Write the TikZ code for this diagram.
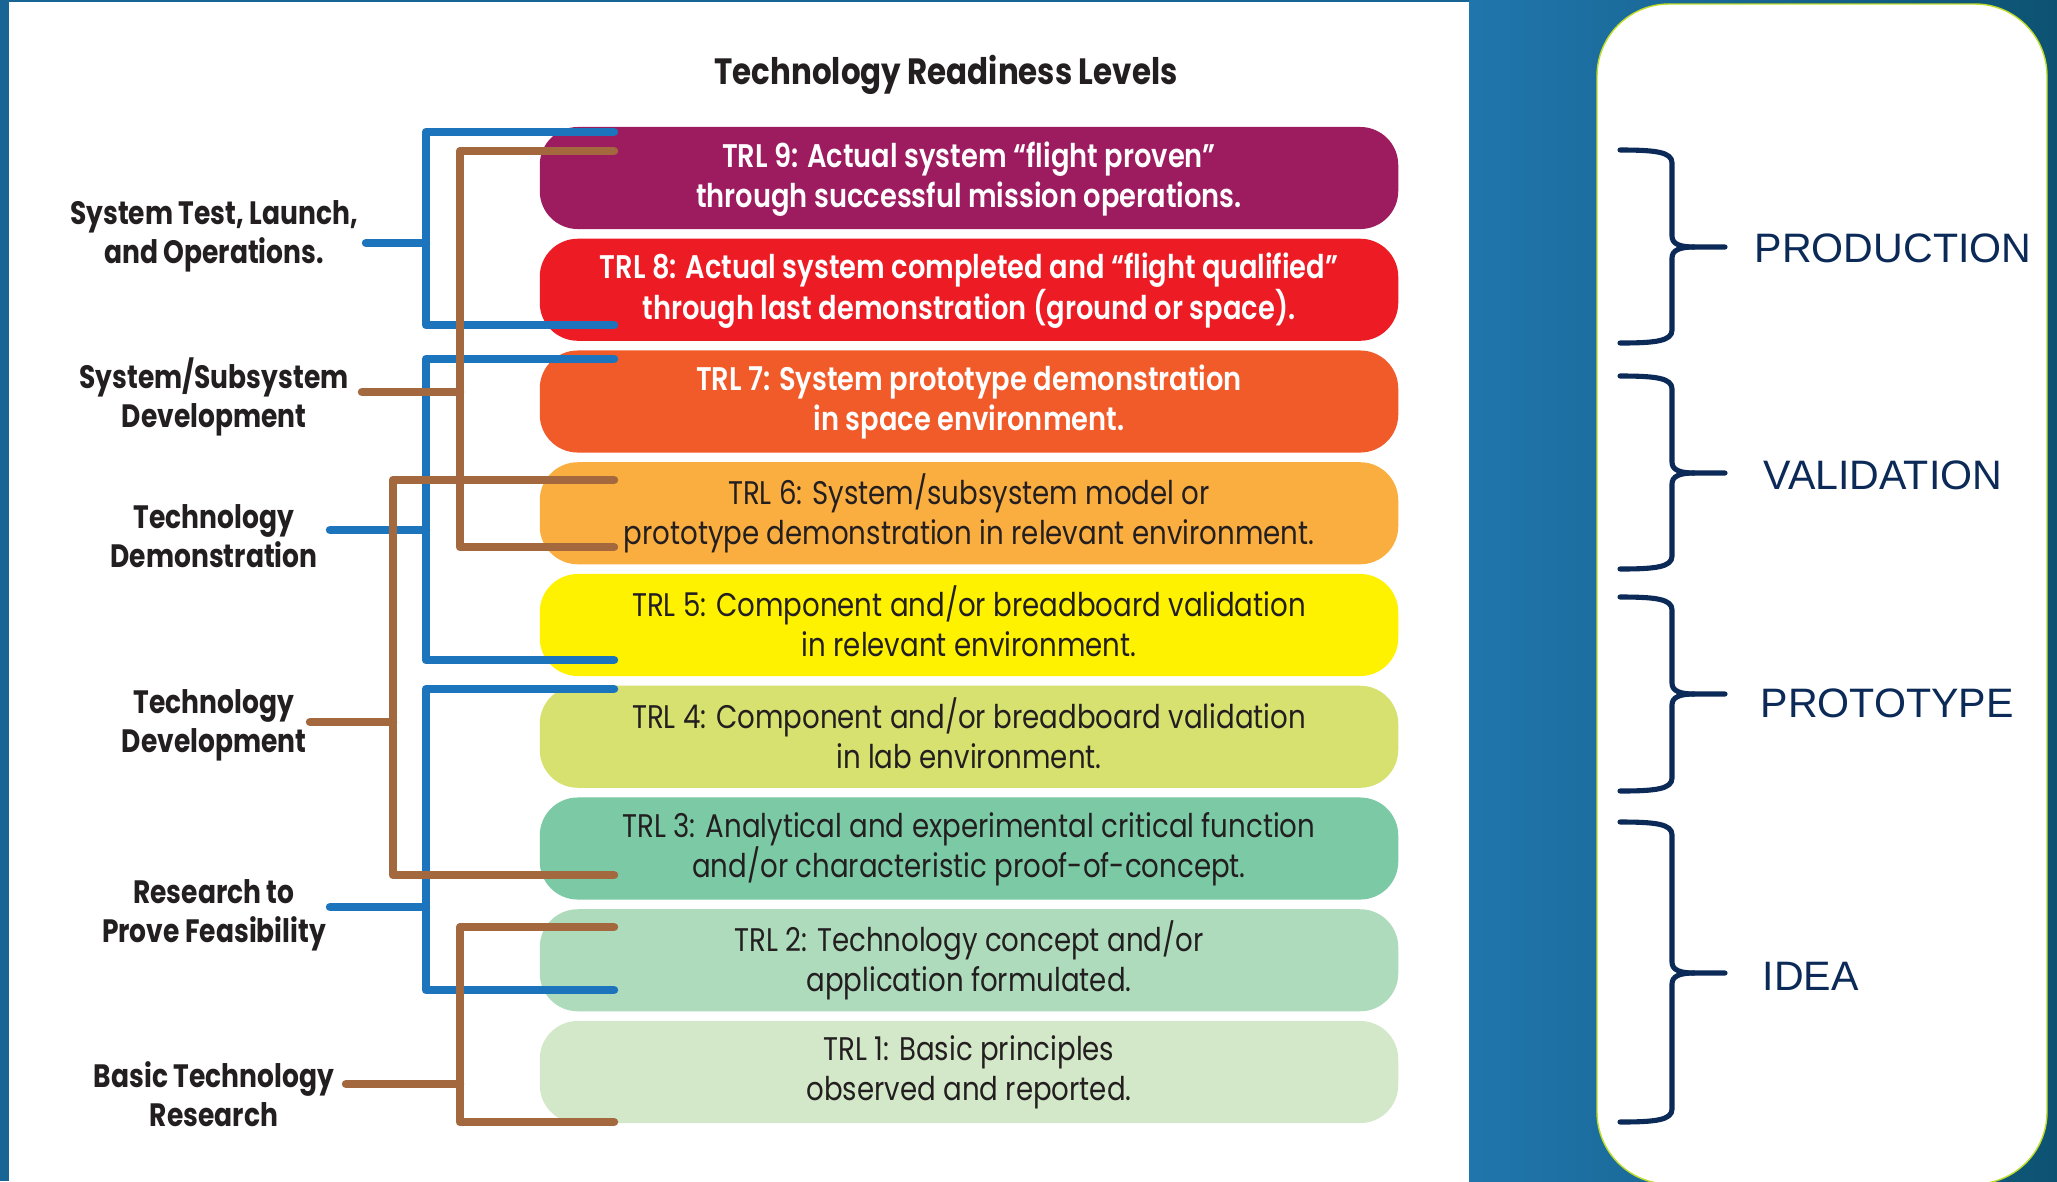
\documentclass[tikz,border=0pt]{standalone}
\usepackage{fontspec}
\setmainfont{Liberation Sans}
\newfontfamily\futlab[FakeStretch=0.82]{Poppins}
\newfontfamily\futbox[FakeStretch=0.845]{Poppins}
\newfontfamily\futmed[FakeStretch=0.835]{Poppins SemiBold}
\usetikzlibrary{calc}
\definecolor{bgL}{RGB}{32,118,172}
\definecolor{bgR}{RGB}{13,82,114}
\definecolor{bgStrip}{RGB}{24,100,148}
\definecolor{blueln}{RGB}{28,117,188}
\definecolor{brownln}{RGB}{163,104,62}
\definecolor{cnine}{RGB}{157,27,95}
\definecolor{ceight}{RGB}{237,28,36}
\definecolor{cseven}{RGB}{241,90,41}
\definecolor{csix}{RGB}{251,174,64}
\definecolor{cfive}{RGB}{255,242,0}
\definecolor{cfour}{RGB}{215,225,111}
\definecolor{cthree}{RGB}{123,201,165}
\definecolor{ctwo}{RGB}{174,219,188}
\definecolor{cone}{RGB}{211,232,200}
\definecolor{darktxt}{RGB}{35,31,32}
\definecolor{navy}{RGB}{11,42,87}
\definecolor{panelrim}{RGB}{190,220,40}
\newcommand\btop{\rule{0pt}{7.4pt}}
\newcommand\bbot{\rule[-2.2pt]{0pt}{2.2pt}}
\newcommand\wtop{\rule{0pt}{7.8pt}}
\newcommand\wbot{\rule[-1.6pt]{0pt}{1.6pt}}
\tikzset{
  trlbox/.style={rounded corners=0.38cm, minimum width=8.58cm, minimum height=1.02cm,
    inner sep=0pt, align=center, font={\futbox\fontsize{9.3}{11.4}\selectfont}},
  lighttxt/.style={text=white, font={\futmed\fontsize{9.3}{11.4}\selectfont}},
  darkbox/.style={text=darktxt},
  grouplab/.style={align=center, inner sep=0pt, text=darktxt,
    font={\futlab\bfseries\fontsize{9.2}{11.1}\selectfont}},
  blueline/.style={draw=blueln, line width=2.4pt, line cap=round, line join=round},
  brownline/.style={draw=brownln, line width=2.4pt, line cap=round, line join=round},
  bracepath/.style={draw=navy, line width=1.45pt, line cap=round, line join=round},
  phase/.style={anchor=west, inner sep=0pt, text=navy, font={\fontsize{11.7}{14}\selectfont}}
}
\begin{document}
\begin{tikzpicture}[x=0.01cm,y=-0.01cm]
\useasboundingbox (0,0) rectangle (2057,1181);
% backgrounds
\fill[bgStrip] (0,0) rectangle (1469,1181);
\shade[left color=bgL, right color=bgR] (1469,0) rectangle (2057,1181);
\fill[white] (9,2) rectangle (1469,1181);
\filldraw[fill=white, draw=panelrim, line width=0.4pt, rounded corners=0.72cm] (1597,4) rectangle (2047,1184);

% title
\node[inner sep=0pt, text=darktxt, font={\futbox\bfseries\fontsize{10.4}{12.5}\selectfont}] (title) at (946,75) {Technology Readiness Levels};

% TRL boxes
\node[trlbox, fill=cnine, lighttxt] (trl9) at (969,178) {\wtop TRL 9: Actual system “flight proven”\\through successful mission operations.\wbot};
\node[trlbox, fill=ceight, lighttxt] (trl8) at (969,289.75) {\wtop TRL 8: Actual system completed and “flight qualified”\\through last demonstration (ground or space).\wbot};
\node[trlbox, fill=cseven, lighttxt] (trl7) at (969,401.5) {\wtop TRL 7: System prototype demonstration\\in space environment.\wbot};
\node[trlbox, fill=csix, darkbox] (trl6) at (969,513.25) {\btop TRL 6: System/subsystem model or\\prototype demonstration in relevant environment.\bbot};
\node[trlbox, fill=cfive, darkbox] (trl5) at (969,625) {\btop TRL 5: Component and/or breadboard validation\\in relevant environment.\bbot};
\node[trlbox, fill=cfour, darkbox] (trl4) at (969,736.75) {\btop TRL 4: Component and/or breadboard validation\\in lab environment.\bbot};
\node[trlbox, fill=cthree, darkbox] (trl3) at (969,848.5) {\btop TRL 3: Analytical and experimental critical function\\and/or characteristic proof-of-concept.\bbot};
\node[trlbox, fill=ctwo, darkbox] (trl2) at (969,960.25) {\btop TRL 2: Technology concept and/or\\application formulated.\bbot};
\node[trlbox, fill=cone, darkbox] (trl1) at (969,1072) {\btop TRL 1: Basic principles\\observed and reported.\bbot};

% group labels
\node[grouplab] (gSTL) at (214,236) {System Test, Launch,\\and Operations.};
\node[grouplab] (gSSD) at (214,397) {System/Subsystem\\Development};
\node[grouplab] (gTDm) at (214,536) {Technology\\Demonstration};
\node[grouplab] (gTDv) at (214,725) {Technology\\Development};
\node[grouplab] (gRPF) at (214,915) {Research to\\Prove Feasibility};
\node[grouplab] (gBTR) at (214,1094) {Basic Technology\\Research};

% bracket coordinates
\coordinate (a1t) at (614,132);  \coordinate (a1b) at (614,325);  \coordinate (a1v) at (426,243);  \coordinate (a1s) at (366,243);
\coordinate (a2t) at (614,359);  \coordinate (a2b) at (614,660);  \coordinate (a2v) at (426,530);  \coordinate (a2s) at (330,530);
\coordinate (a3t) at (614,689);  \coordinate (a3b) at (614,990);  \coordinate (a3v) at (426,907);  \coordinate (a3s) at (330,907);
\coordinate (r1t) at (614,151);  \coordinate (r1b) at (614,547);  \coordinate (r1v) at (460,392);  \coordinate (r1s) at (362,392);
\coordinate (r2t) at (614,480);  \coordinate (r2b) at (614,875);  \coordinate (r2v) at (393,722);  \coordinate (r2s) at (310,722);
\coordinate (r3t) at (614,927);  \coordinate (r3b) at (614,1122); \coordinate (r3v) at (460,1084); \coordinate (r3s) at (346,1084);

% blue brackets
\foreach \g in {a1,a2,a3}{
  \draw[blueline] (\g t) -- (\g t -| \g v) -- (\g b -| \g v) -- (\g b);
  \draw[blueline] (\g s) -- (\g v);
}
% brown brackets
\foreach \g in {r1,r2,r3}{
  \draw[brownline] (\g t) -- (\g t -| \g v) -- (\g b -| \g v) -- (\g b);
  \draw[brownline] (\g s) -- (\g v);
}

% braces
\foreach \t/\m/\b in {150/247/343, 376/473/569, 597/694/791, 822/973/1122}{
  \draw[bracepath] (1620,\t) .. controls (1656,\t) and (1672,\t+2) .. (1672,\t+13)
     -- (1672,\m-11) .. controls (1672,\m-3) and (1680,\m) .. (1694,\m) -- (1725,\m);
  \draw[bracepath] (1694,\m) .. controls (1680,\m) and (1672,\m+3) .. (1672,\m+11)
     -- (1672,\b-13) .. controls (1672,\b-2) and (1656,\b) .. (1620,\b);
}
\node[phase] (pProd) at (1754,248) {PRODUCTION};
\node[phase] (pVal) at (1763,475) {VALIDATION};
\node[phase] (pProt) at (1760,703) {PROTOTYPE};
\node[phase] (pIdea) at (1762,976) {IDEA};
\end{tikzpicture}
\end{document}
